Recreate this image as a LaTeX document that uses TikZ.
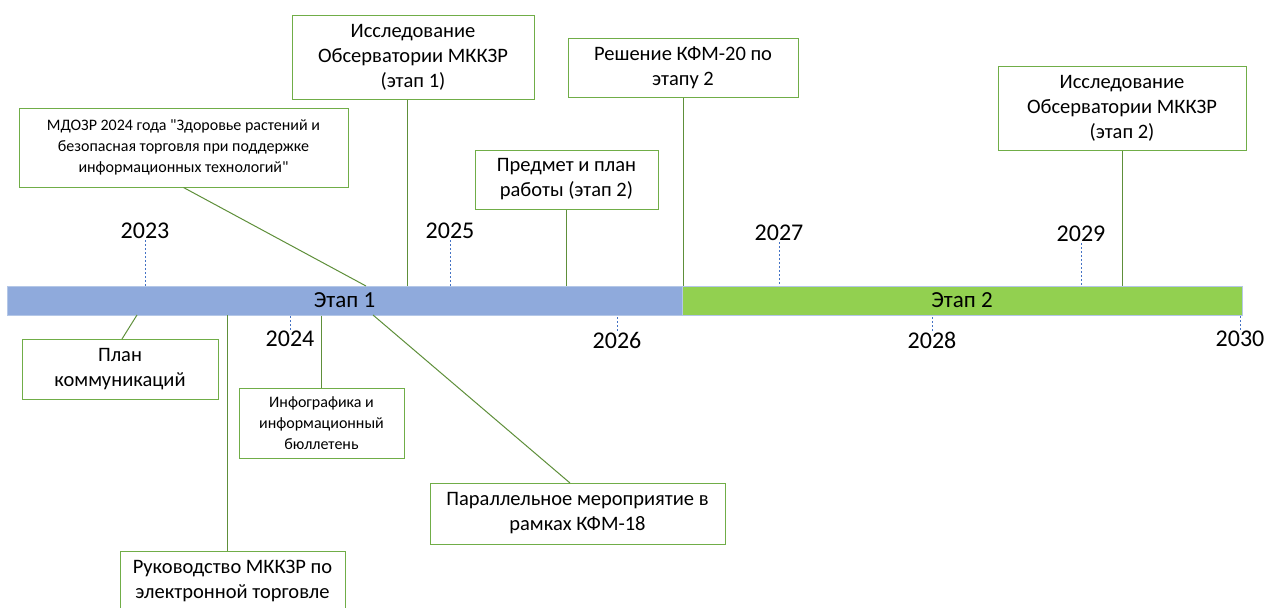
\documentclass[tikz,border=0pt]{standalone}
\usepackage{fontspec}
\setmainfont{Carlito}[Ligatures=TeXOff]
\usepackage{tikz}
\definecolor{barblue}{HTML}{8FAADC}
\definecolor{bargreen}{HTML}{92D050}
\definecolor{baredge}{HTML}{B4C7E7}
\definecolor{boxgreen}{HTML}{70AD47}
\definecolor{lnkgreen}{HTML}{5E8F3A}
\definecolor{tkblue}{HTML}{4472C4}
\tikzset{
	evt/.style 2 args={draw=boxgreen,line width=1pt,fill=white,align=center,inner sep=2pt,minimum width=#1,minimum height=#2,font=\fontsize{20.5}{25}\selectfont},
	sevt/.style 2 args={evt={#1}{#2},font=\fontsize{16}{21}\selectfont},
	phase/.style 2 args={draw=baredge,line width=1pt,fill=#1,minimum width=#2,minimum height=29,inner sep=0pt,font=\fontsize{23}{26}\selectfont},
	yr/.style={inner sep=1pt,font=\fontsize{24}{28}\selectfont},
	tk/.style={draw=tkblue,line width=0.6pt,dash pattern=on 2pt off 2pt},
	lnk/.style={draw=lnkgreen,line width=1pt}
}
\begin{document}
\begin{tikzpicture}[x=1pt,y=-1pt]
	\clip (0,0) rectangle (1267,608);
	\fill[white] (0,0) rectangle (1267,608);

	% timeline
	\node [phase={barblue}{675}] (ph1) at (344.5,300.5) {Этап 1};
	\node [phase={bargreen}{560}] (ph2) at (962,300.5) {Этап 2};

	% years
	\node [yr] (y2023) at (145,231) {2023};
	\node [yr] (y2024) at (290,339) {2024};
	\node [yr] (y2025) at (450,231) {2025};
	\node [yr] (y2026) at (617,340) {2026};
	\node [yr] (y2027) at (779,233) {2027};
	\node [yr] (y2028) at (932,340) {2028};
	\node [yr] (y2029) at (1081,234) {2029};
	\node [yr] (y2030) at (1240,339) {2030};

	\draw [tk] (y2023.south) -- (y2023.south |- ph1.north);
	\draw [tk] (y2025.south) -- (y2025.south |- ph1.north);
	\draw [tk] (y2027.south) -- (y2027.south |- ph2.north);
	\draw [tk] (y2029.south) -- (y2029.south |- ph2.north);
	\draw [tk] (y2024.north) -- (y2024.north |- ph1.south);
	\draw [tk] (y2026.north) -- (y2026.north |- ph1.south);
	\draw [tk] (y2028.north) -- (y2028.north |- ph2.south);
	\draw [tk] (y2030.north) -- (y2030.north |- ph2.south);

	% events above
	\node [evt={242}{84}] (obs1) at (413,57) {Исследование\\Обсерватории МККЗР\\(этап 1)};
	\node [sevt={329}{79}] (mdozr) at (183.5,147.5) {МДОЗР 2024 года "Здоровье растений и\\безопасная торговля при поддержке\\информационных технологий"};
	\node [evt={183}{59}] (plan2) at (566.5,179.5) {Предмет и план\\работы (этап 2)};
	\node [evt={230}{59}] (kfm20) at (683,67.5) {Решение КФМ-20 по\\этапу 2};
	\node [evt={248}{84}] (obs2) at (1122,108) {Исследование\\Обсерватории МККЗР\\(этап 2)};

	% events below
	\node [evt={196}{60}] (comm) at (120,369) {План\\коммуникаций};
	\node [sevt={165}{70}] (info) at (321.5,423) {Инфографика и\\информационный\\бюллетень};
	\node [evt={295}{61}] (side) at (577.5,513.5) {Параллельное мероприятие в\\рамках КФМ-18};
	\node [evt={225}{60}] (guide) at (232.5,581) {Руководство МККЗР по\\электронной торговле};

	\coordinate (c1) at (407,286);
	\coordinate (c2) at (366,286);
	\coordinate (c3) at (137,315);
	\coordinate (c4) at (227,315);
	\coordinate (c5) at (373,315);
	\coordinate (c6) at (570,483);
	\coordinate (c7) at (122,339);

	\draw [lnk] (c1 |- obs1.south) -- (c1);
	\draw [lnk] (mdozr.south) -- (c2);
	\draw [lnk] (plan2.south) -- (plan2.south |- ph1.north);
	\draw [lnk] (kfm20.south) -- (kfm20.south |- ph1.north);
	\draw [lnk] (obs2.south) -- (obs2.south |- ph2.north);
	\draw [lnk] (c3) -- (c7);
	\draw [lnk] (c4) -- (c4 |- guide.north);
	\draw [lnk] (info.north |- ph1.south) -- (info.north);
	\draw [lnk] (c5) -- (c6);
\end{tikzpicture}
\end{document}
